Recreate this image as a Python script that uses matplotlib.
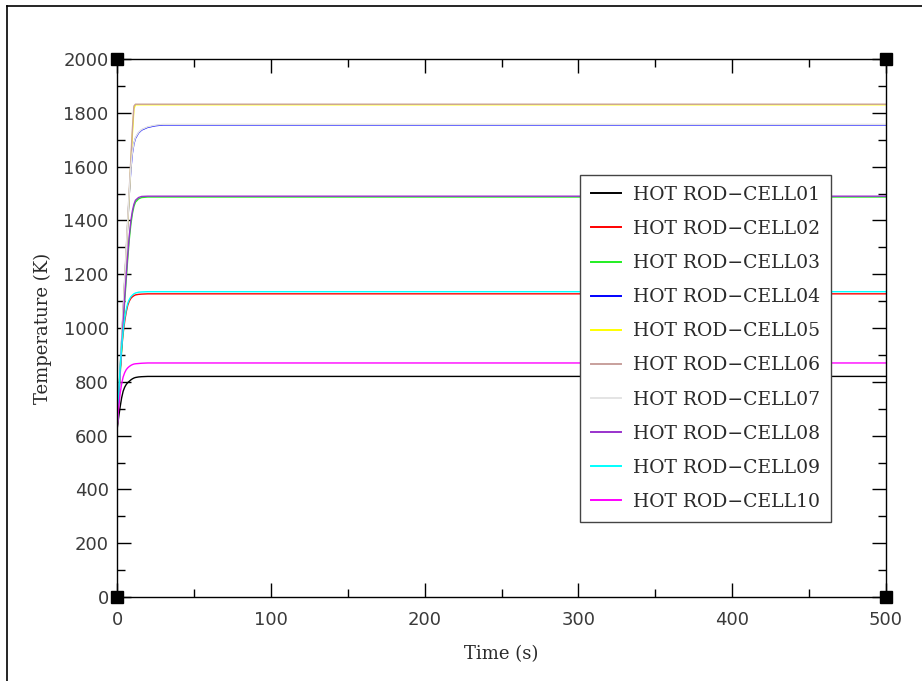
import matplotlib
matplotlib.use("Agg")
import matplotlib.pyplot as plt
from matplotlib.lines import Line2D

# ---- data ----
time_s = [0, 1, 2, 3, 4, 5, 6, 7, 8, 9, 10, 11, 12, 14, 16, 20, 25, 30, 500]

cell01 = [620, 665, 705, 740, 765, 780, 790, 797, 802, 807, 811, 814, 816, 818, 819, 820, 820, 820, 820]
cell02 = [620, 740, 840, 920, 980, 1025, 1060, 1085, 1100, 1110, 1116, 1120, 1123, 1125, 1126, 1127, 1127, 1127, 1127]
cell03 = [620, 720, 820, 915, 1010, 1100, 1180, 1260, 1330, 1385, 1425, 1452, 1468, 1480, 1485, 1487, 1487, 1487, 1487]
cell04 = [620, 730, 840, 950, 1060, 1170, 1280, 1390, 1500, 1590, 1650, 1685, 1705, 1725, 1736, 1746, 1752, 1755, 1755]
cell05 = [620, 730, 840, 950, 1060, 1170, 1280, 1390, 1500, 1610, 1720, 1815, 1830, 1830, 1830, 1830, 1830, 1830, 1830]
cell06 = [620, 732, 844, 956, 1068, 1180, 1292, 1404, 1516, 1628, 1740, 1825, 1832, 1832, 1832, 1832, 1832, 1832, 1832]
cell07 = [620, 732, 844, 956, 1068, 1180, 1292, 1404, 1512, 1596, 1654, 1688, 1708, 1727, 1738, 1748, 1754, 1757, 1757]
cell08 = [620, 725, 830, 930, 1025, 1115, 1195, 1275, 1345, 1398, 1435, 1460, 1475, 1485, 1489, 1490, 1490, 1490, 1490]
cell09 = [620, 745, 850, 930, 990, 1035, 1068, 1092, 1106, 1116, 1122, 1127, 1130, 1133, 1134, 1135, 1135, 1135, 1135]
cell10 = [620, 700, 755, 792, 818, 834, 845, 852, 857, 861, 864, 866, 867, 868, 869, 870, 870, 870, 870]

series_names = ["HOT ROD\u2212CELL01", "HOT ROD\u2212CELL02", "HOT ROD\u2212CELL03",
                "HOT ROD\u2212CELL04", "HOT ROD\u2212CELL05", "HOT ROD\u2212CELL06",
                "HOT ROD\u2212CELL07", "HOT ROD\u2212CELL08", "HOT ROD\u2212CELL09",
                "HOT ROD\u2212CELL10"]
series_values = [cell01, cell02, cell03, cell04, cell05, cell06, cell07, cell08, cell09, cell10]
series_colors = ["#000000", "#ff0000", "#22ee22", "#0000ff", "#ffff00",
                 "#c8a09c", "#e4e4e4", "#9932cc", "#00ffff", "#ff00ff"]

x_ticks = [0, 100, 200, 300, 400, 500]
y_ticks = [0, 200, 400, 600, 800, 1000, 1200, 1400, 1600, 1800, 2000]

# ---- figure ----
W, H = 922, 681
fig = plt.figure(figsize=(W / 100, H / 100), dpi=100)
ax = fig.add_axes([117 / W, 1 - 597 / H, (886 - 117) / W, (597 - 59) / H])

for name, vals, col in zip(series_names, series_values, series_colors):
    ax.plot(time_s, vals, color=col, lw=1.0, label=name)

ax.set_xlim(0, 500)
ax.set_ylim(0, 2000)
ax.set_xticks(x_ticks)
ax.set_yticks(y_ticks)
ax.set_xticks(range(50, 500, 100), minor=True)
ax.set_yticks(range(100, 2000, 200), minor=True)
ax.tick_params(which="both", direction="in", top=True, right=True,
               labelsize=13, labelcolor="#3a3a3a", width=1.0)
ax.tick_params(which="major", length=10)
ax.tick_params(which="minor", length=6)
ax.tick_params(axis="y", pad=6)
ax.tick_params(axis="x", pad=10)
for tl in ax.get_xticklabels() + ax.get_yticklabels():
    tl.set_family("DejaVu Sans")
for s in ax.spines.values():
    s.set_linewidth(1.0)

ax.set_xlabel("Time (s)", family="DejaVu Serif", fontsize=13, color="#2a2a2a", labelpad=12)
ax.set_ylabel("Temperature (K)", family="DejaVu Serif", fontsize=13, color="#2a2a2a", labelpad=8)

# corner squares
ax.plot([0, 0, 500, 500], [0, 2000, 0, 2000], ls="none", marker="s",
        ms=8.5, color="black", clip_on=False, zorder=10)

leg = ax.legend(loc="upper left", bbox_to_anchor=((580 - 117) / 769, 1 - (175 - 59) / 538),
                prop={"family": "DejaVu Serif", "size": 13.5},
                frameon=True, fancybox=False, framealpha=1, edgecolor="#444444",
                handlelength=1.6, handletextpad=0.65, labelspacing=0.86,
                borderpad=0.58, borderaxespad=0)
for t in leg.get_texts():
    t.set_color("#2a2a2a")
for h in leg.get_lines():
    h.set_linewidth(1.4)
leg.get_frame().set_linewidth(1.0)

# outer frame lines
fig.add_artist(Line2D([7 / W, 1.0], [1 - 6 / H, 1 - 6 / H], color="black", lw=1.2,
                      transform=fig.transFigure))
fig.add_artist(Line2D([7 / W, 7 / W], [0.0, 1 - 6 / H], color="black", lw=1.2,
                      transform=fig.transFigure))

fig.savefig("out.png", dpi=100)
